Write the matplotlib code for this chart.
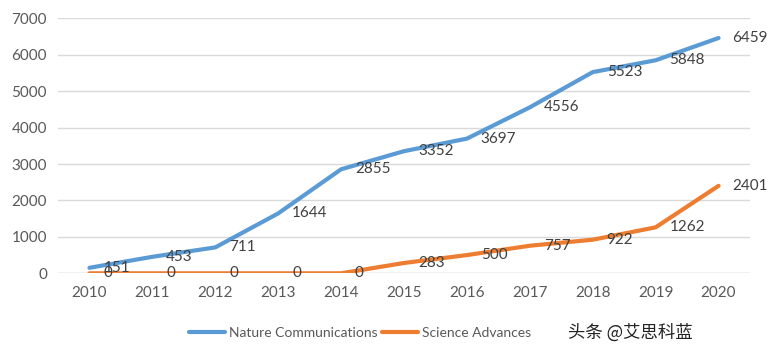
import matplotlib
matplotlib.use("Agg")
import matplotlib.pyplot as plt

years = ["2010", "2011", "2012", "2013", "2014", "2015", "2016", "2017", "2018", "2019", "2020"]
nature_comm = [151, 453, 711, 1644, 2855, 3352, 3697, 4556, 5523, 5848, 6459]
science_adv = [0, 0, 0, 0, 0, 283, 500, 757, 922, 1262, 2401]
series_names = ["Nature Communications", "Science Advances"]
yticks = [0, 1000, 2000, 3000, 4000, 5000, 6000, 7000]

plt.rcParams['font.family'] = ['Lato', 'DejaVu Sans']

fig = plt.figure(figsize=(7.69, 3.53), dpi=100)
ax = fig.add_axes([58/769, 1-273.3/353, (750-58)/769, (273.3-18.3)/353])

x = list(range(len(years)))
colors = ["#5B9BD5", "#ED7D31"]
for vals, name, c in zip([nature_comm, science_adv], series_names, colors):
    ax.plot(x, vals, color=c, lw=3.0, label=name, solid_capstyle='round', solid_joinstyle='round', zorder=3)

for vals in [nature_comm, science_adv]:
    for xi, v in zip(x, vals):
        ax.annotate(str(v), (xi, v), xytext=(10, 0), textcoords='offset points',
                    ha='left', va='center', fontsize=11, color='#404040', zorder=4)

ax.set_xlim(-0.5, len(years) - 0.5)
ax.set_ylim(0, 7000)
ax.set_yticks(yticks)
ax.set_xticks(x)
ax.set_xticklabels(years)
ax.grid(axis='y', color='#D9D9D9', lw=1)
ax.set_axisbelow(True)
for s in ax.spines.values():
    s.set_visible(False)
ax.axhline(0, color='#D9D9D9', lw=1, zorder=1)
ax.tick_params(axis='both', length=0, labelsize=11, labelcolor='#595959')
ax.tick_params(axis='y', pad=8)
ax.tick_params(axis='x', pad=9)

leg = fig.legend(loc='center', bbox_to_anchor=(360/769, 1-333/353), ncol=2, frameon=False,
                 fontsize=10, handlelength=2.6, handletextpad=0.3, columnspacing=0.3)
for t in leg.get_texts():
    t.set_color('#595959')

fig.text(630/769, 1-333/353, "头条 @艾思科蓝", ha='center', va='center', fontsize=12.5,
         color='#222222', family=['Noto Sans CJK SC', 'DejaVu Sans'])

fig.savefig("out.png", dpi=100, facecolor='white')
